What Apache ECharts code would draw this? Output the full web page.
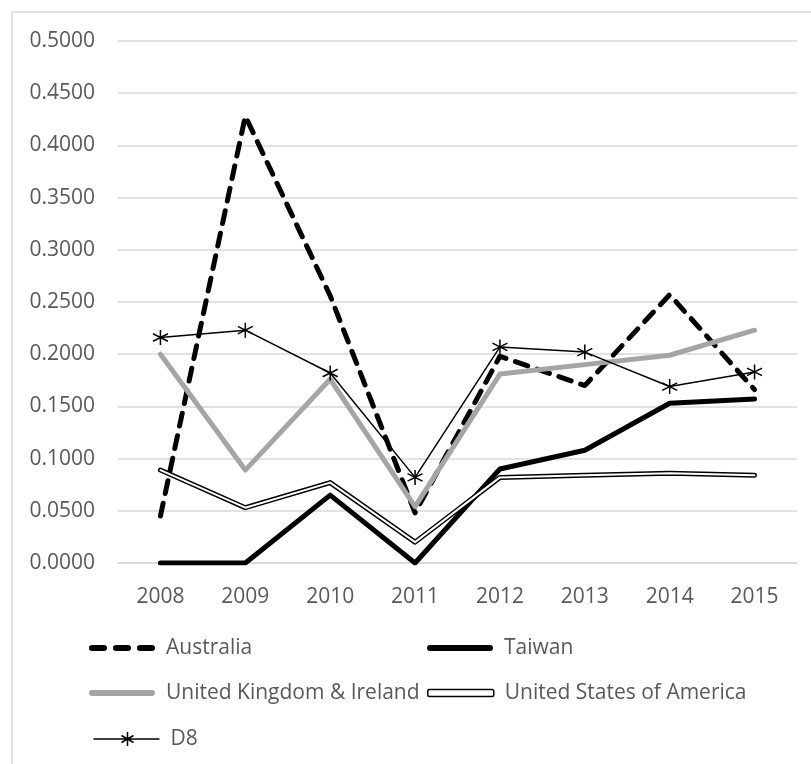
<!DOCTYPE html>
<html>
<head>
<meta charset="utf-8">
<style>
  html, body { margin: 0; padding: 0; background: #fff; }
  #chart { width: 811px; height: 764px; }
</style>
<script src="https://cdn.jsdelivr.net/npm/echarts@6/dist/echarts.min.js"></script>
</head>
<body>
<div id="chart"></div>
<script>
// Categories and series values
const years = ['2008', '2009', '2010', '2011', '2012', '2013', '2014', '2015'];
const australia = [0.045, 0.428, 0.256, 0.048, 0.198, 0.170, 0.257, 0.166];
const taiwan = [0.000, 0.000, 0.065, 0.000, 0.090, 0.108, 0.153, 0.157];
const ukIreland = [0.200, 0.089, 0.176, 0.054, 0.181, 0.190, 0.199, 0.223];
const usa = [0.089, 0.053, 0.077, 0.020, 0.082, 0.084, 0.086, 0.084];
const d8 = [0.216, 0.223, 0.182, 0.082, 0.207, 0.202, 0.169, 0.183];

// Value axis ticks
const yMin = 0, yMax = 0.5, yStep = 0.05;

const FONT = 'Open Sans';
const TEXT_COLOR = '#595959';
const GRID_COLOR = '#d9d9d9';

// six-armed asterisk marker, stroked only
const asterisk = 'path://M0,-10L0,10M-8.66,-5L8.66,5M-8.66,5L8.66,-5';

// legend glyphs
const dashIcon = 'path://' +
  'M3,0h12a3,3 0 0 1 0,6h-12a3,3 0 0 1 0,-6z' +
  'M27,0h12a3,3 0 0 1 0,6h-12a3,3 0 0 1 0,-6z' +
  'M51,0h12a3,3 0 0 1 0,6h-12a3,3 0 0 1 0,-6z';
const barIcon = 'path://M3,0h60a3,3 0 0 1 0,6h-60a3,3 0 0 1 0,-6z';
const starLineIcon = 'path://M0,7L66,7M34,0L34,14M28,3.5L40,10.5M28,10.5L40,3.5';

const chart = echarts.init(document.getElementById('chart'), null, { renderer: 'canvas' });

function legendBox(name, left, top, icon, iconHeight, itemStyle) {
  return {
    data: [{ name: name, icon: icon, itemStyle: itemStyle }],
    left: left,
    top: top,
    padding: 0,
    itemWidth: 66,
    itemHeight: iconHeight,
    symbolKeepAspect: false,
    selectedMode: false,
    textStyle: {
      fontFamily: FONT, fontSize: 21, color: TEXT_COLOR,
      lineHeight: 24, padding: [0, 0, 0, 6]
    }
  };
}

const option = {
  backgroundColor: '#fff',
  animation: false,
  graphic: [{
    type: 'rect',
    shape: { x: 12, y: 12, width: 900, height: 900 },
    style: { fill: 'none', stroke: GRID_COLOR, lineWidth: 1.5 },
    silent: true
  }],
  grid: { left: 118, right: 14, top: 41, bottom: 201, containLabel: false },
  xAxis: {
    type: 'category',
    data: years,
    boundaryGap: true,
    axisLine: { show: true, lineStyle: { color: GRID_COLOR, width: 1.5 } },
    axisTick: { show: false },
    axisLabel: { fontFamily: FONT, fontSize: 21, color: TEXT_COLOR, margin: 24 }
  },
  yAxis: {
    type: 'value',
    min: yMin, max: yMax, interval: yStep,
    axisLine: { show: false },
    axisTick: { show: false },
    splitLine: { lineStyle: { color: GRID_COLOR, width: 1.5 } },
    axisLabel: {
      fontFamily: FONT, fontSize: 21, color: TEXT_COLOR, margin: 23,
      formatter: v => v.toFixed(4)
    }
  },
  legend: [
    legendBox('Australia', 89, 636, dashIcon, 6, { color: '#000', borderWidth: 0 }),
    legendBox('United Kingdom & Ireland', 89, 681, barIcon, 6, { color: '#a5a5a5', borderWidth: 0 }),
    legendBox('D8', 91, 727, starLineIcon, 14, { color: 'none', borderColor: '#000', borderWidth: 1.5 }),
    legendBox('Taiwan', 427, 636, barIcon, 6, { color: '#000', borderWidth: 0 }),
    legendBox('United States of America', 427, 681, 'roundRect', 7,
      { color: '#fff', borderColor: '#000', borderWidth: 1.5 })
  ],
  series: [
    {
      name: 'Australia', type: 'line', data: australia,
      symbol: 'none', z: 2,
      lineStyle: { color: '#000', width: 5, type: [13, 10], cap: 'round', join: 'round' },
      itemStyle: { color: '#000' }
    },
    {
      name: 'Taiwan', type: 'line', data: taiwan,
      symbol: 'none', z: 3,
      lineStyle: { color: '#000', width: 5, cap: 'round', join: 'round' },
      itemStyle: { color: '#000' }
    },
    {
      name: 'United Kingdom & Ireland', type: 'line', data: ukIreland,
      symbol: 'none', z: 4,
      lineStyle: { color: '#a5a5a5', width: 5, cap: 'round', join: 'round' },
      itemStyle: { color: '#a5a5a5' }
    },
    {
      // outer dark stroke of the double line
      name: 'United States of America', type: 'line', data: usa,
      symbol: 'none', z: 5,
      lineStyle: { color: '#000', width: 5, cap: 'round', join: 'round' },
      itemStyle: { color: '#fff', borderColor: '#000' }
    },
    {
      // inner white stroke of the double line
      name: 'usa-inner', type: 'line', data: usa,
      symbol: 'none', z: 6, silent: true,
      lineStyle: { color: '#fff', width: 2, cap: 'round', join: 'round' }
    },
    {
      name: 'D8', type: 'line', data: d8,
      symbol: asterisk, symbolSize: 15, showSymbol: true, z: 7,
      lineStyle: { color: '#000', width: 1.5 },
      itemStyle: { color: 'none', borderColor: '#000', borderWidth: 1.5 }
    }
  ]
};

chart.setOption(option);
</script>
</body>
</html>
